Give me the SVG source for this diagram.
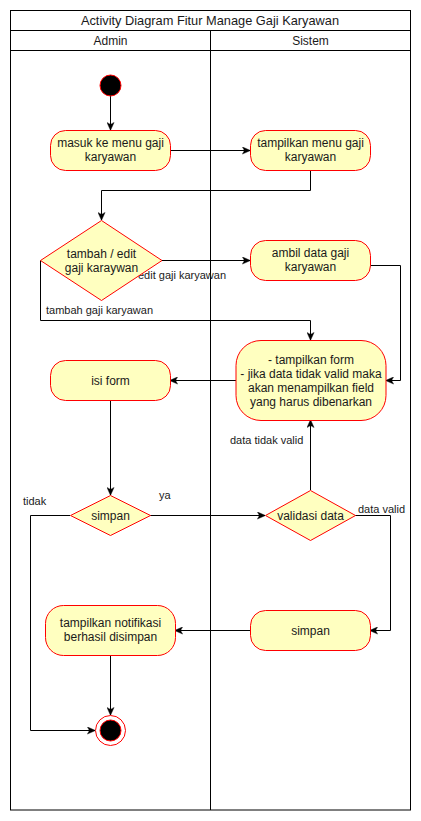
<svg xmlns="http://www.w3.org/2000/svg" width="421" height="821" viewBox="0 0 421 821">
  <style>
    .frame { fill: none; stroke: #000; stroke-width: 1; }
    .act { fill: #ffffc0; stroke: #ff0000; stroke-width: 1; }
    .dot { fill: #000; stroke: #ff0000; stroke-width: 1; }
    .ring { fill: #fff; stroke: #ff0000; stroke-width: 1; }
    .edge { fill: none; stroke: #000; stroke-width: 1; marker-end: url(#arrow); }
    text { font-family: "Liberation Sans", Arial, Helvetica, sans-serif; fill: #1a1a1a; }
    .t12 { font-size: 12px; text-anchor: middle; }
    .title { font-size: 12.8px; text-anchor: middle; }
    .lbl { font-size: 11px; }
  </style>
  <defs>
    <marker id="arrow" viewBox="0 0 10 10" refX="9.5" refY="5" markerWidth="8" markerHeight="8" markerUnits="userSpaceOnUse" orient="auto">
      <path d="M0,0.5 L10,5 L0,9.5 L2.5,5 Z" fill="#000" stroke="#000" stroke-width="0.5"/>
    </marker>
  </defs>

  <rect width="421" height="821" fill="#fff"/>

  <!-- swimlane pool -->
  <g id="pool">
    <rect class="frame" x="10.5" y="10.5" width="400" height="799.5"/>
    <line class="frame" x1="10.5" y1="30.5" x2="410.5" y2="30.5"/>
    <line class="frame" x1="10.5" y1="50.5" x2="410.5" y2="50.5"/>
    <line class="frame" x1="210.5" y1="30.5" x2="210.5" y2="810"/>
    <text class="title" x="210" y="24.5">Activity Diagram Fitur Manage Gaji Karyawan</text>
    <text class="t12" x="110.5" y="44.5">Admin</text>
    <text class="t12" x="310.5" y="44.5">Sistem</text>
  </g>

  <!-- connectors -->
  <g id="connectors">
    <path class="edge" d="M110.5,96 L110.5,130"/>
    <path class="edge" d="M170,150.5 L250,150.5"/>
    <path class="edge" d="M310.5,170 L310.5,190.5 L101.5,190.5 L101.5,220"/>
    <path class="edge" d="M162,260.5 L250,260.5"/>
    <path class="edge" d="M40.5,260.5 L40.5,320.5 L310.5,320.5 L310.5,340"/>
    <path class="edge" d="M370,265.5 L400.5,265.5 L400.5,380.5 L386,380.5"/>
    <path class="edge" d="M236,380.5 L170,380.5"/>
    <path class="edge" d="M110.5,400 L110.5,495"/>
    <path class="edge" d="M150,515.5 L265,515.5"/>
    <path class="edge" d="M310.5,490 L310.5,420"/>
    <path class="edge" d="M355,515.5 L390.5,515.5 L390.5,630.5 L370,630.5"/>
    <path class="edge" d="M250,630.5 L175,630.5"/>
    <path class="edge" d="M110.5,655 L110.5,715"/>
    <path class="edge" d="M70,515.5 L30.5,515.5 L30.5,730.5 L95,730.5"/>

    <text class="lbl" x="138" y="279">edit gaji karyawan</text>
    <text class="lbl" x="46" y="314">tambah gaji karyawan</text>
    <text class="lbl" x="230" y="444">data tidak valid</text>
    <text class="lbl" x="23" y="505">tidak</text>
    <text class="lbl" x="159" y="499">ya</text>
    <text class="lbl" x="358" y="513">data valid</text>
  </g>

  <g id="start">
    <circle class="dot" cx="110.5" cy="85.5" r="10.5"/>
  </g>

  <g id="masuk-menu">
    <rect class="act" x="50.5" y="130.5" width="120" height="40" rx="15"/>
    <text class="t12" x="110.5" y="147">masuk ke menu gaji</text>
    <text class="t12" x="110.5" y="161">karyawan</text>
  </g>

  <g id="tampilkan-menu">
    <rect class="act" x="250.5" y="130.5" width="120" height="40" rx="15"/>
    <text class="t12" x="310.5" y="147">tampilkan menu gaji</text>
    <text class="t12" x="310.5" y="161">karyawan</text>
  </g>

  <g id="pilih-aksi">
    <polygon class="act" points="101.5,220.5 162,260.5 101.5,300.5 40.5,260.5"/>
    <text class="t12" x="101.5" y="258">tambah / edit</text>
    <text class="t12" x="101.5" y="272">gaji karaywan</text>
  </g>

  <g id="ambil-data">
    <rect class="act" x="250.5" y="240.5" width="120" height="40" rx="15"/>
    <text class="t12" x="310.5" y="257">ambil data gaji</text>
    <text class="t12" x="310.5" y="271">karyawan</text>
  </g>

  <g id="tampilkan-form">
    <rect class="act" x="236" y="340.5" width="150" height="80" rx="25"/>
    <text class="t12" x="311" y="364">- tampilkan form</text>
    <text class="t12" x="311" y="378">- jika data tidak valid maka</text>
    <text class="t12" x="311" y="392">akan menampilkan field</text>
    <text class="t12" x="311" y="406">yang harus dibenarkan</text>
  </g>

  <g id="isi-form">
    <rect class="act" x="50.5" y="360.5" width="120" height="40" rx="15"/>
    <text class="t12" x="110.5" y="385">isi form</text>
  </g>

  <g id="simpan-keputusan">
    <polygon class="act" points="110.5,495.5 150.5,515.5 110.5,535.5 70.5,515.5"/>
    <text class="t12" x="110.5" y="520">simpan</text>
  </g>

  <g id="validasi-data">
    <polygon class="act" points="310.5,490.5 355.5,515.5 310.5,540.5 265.5,515.5"/>
    <text class="t12" x="310.5" y="520">validasi data</text>
  </g>

  <g id="simpan-data">
    <rect class="act" x="250.5" y="610.5" width="120" height="40" rx="15"/>
    <text class="t12" x="310.5" y="635">simpan</text>
  </g>

  <g id="notifikasi">
    <rect class="act" x="45.5" y="605.5" width="130" height="50" rx="18"/>
    <text class="t12" x="110.5" y="627">tampilkan notifikasi</text>
    <text class="t12" x="110.5" y="641">berhasil disimpan</text>
  </g>

  <g id="end">
    <circle class="ring" cx="110.5" cy="730.5" r="15"/>
    <circle class="dot" cx="110.5" cy="730.5" r="10.5"/>
  </g>
</svg>
